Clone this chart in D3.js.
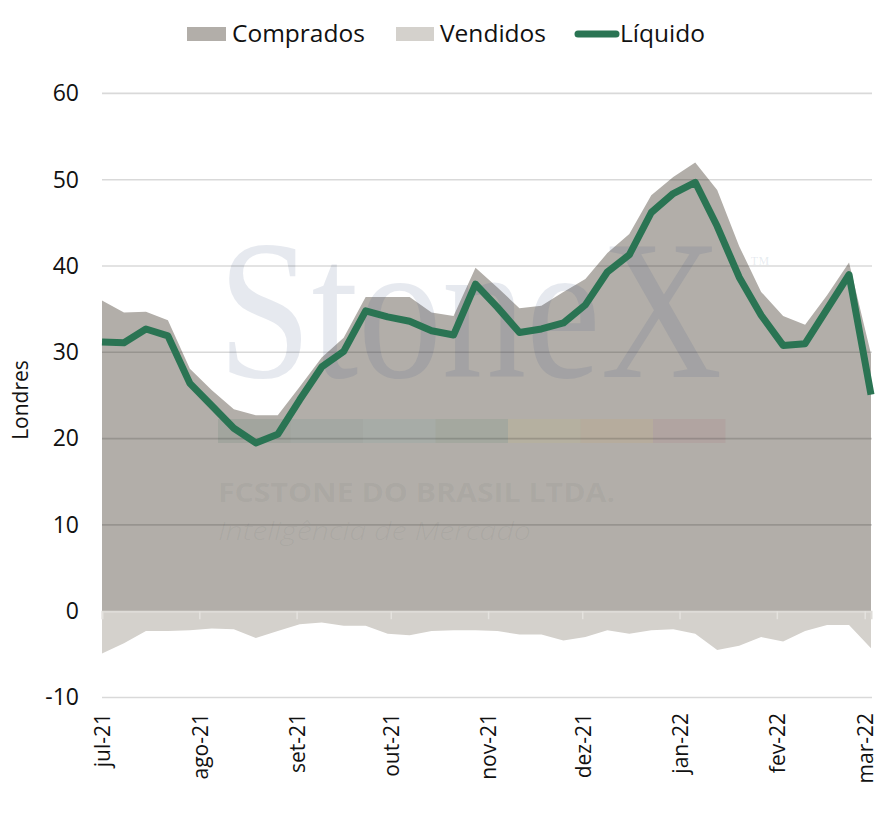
<!DOCTYPE html>
<html lang="pt">
<head>
<meta charset="UTF-8">
<title>Londres</title>
<style>
  body { margin: 0; background: #fff; }
  text { font-family: "Open Sans", "Noto Sans", sans-serif; fill: #111; }
</style>
</head>
<body>
<div id="chart"></div>
<script src="https://cdn.jsdelivr.net/npm/d3@7/dist/d3.min.js"></script>
<script>
// dados semanais (milhares de contratos)
let datas = ['2021-07-06','2021-07-13','2021-07-20','2021-07-27','2021-08-03','2021-08-10','2021-08-17','2021-08-24','2021-08-31',
  '2021-09-07','2021-09-14','2021-09-21','2021-09-28','2021-10-05','2021-10-12','2021-10-19','2021-10-26',
  '2021-11-02','2021-11-09','2021-11-16','2021-11-23','2021-11-30','2021-12-07','2021-12-14','2021-12-21','2021-12-28',
  '2022-01-04','2022-01-11','2022-01-18','2022-01-25','2022-02-01','2022-02-08','2022-02-15','2022-02-22','2022-03-01','2022-03-08']
let comprados = [36.0, 34.6, 34.7, 33.7, 28.1, 25.6, 23.4, 22.7, 22.7, 26.0, 29.4, 31.7, 36.4, 36.4, 36.4, 34.6, 34.2, 39.8,
  37.5, 35.1, 35.4, 37.0, 38.5, 41.5, 43.7, 48.2, 50.3, 52.0, 48.8, 42.3, 37.0, 34.2, 33.2, 36.6, 40.4, 29.8]
let vendidos = [-4.9, -3.7, -2.3, -2.3, -2.2, -2.0, -2.1, -3.1, -2.3, -1.5, -1.3, -1.7, -1.7, -2.6, -2.8, -2.3, -2.2, -2.2,
  -2.3, -2.7, -2.7, -3.4, -3.0, -2.2, -2.6, -2.2, -2.1, -2.6, -4.5, -4.0, -3.0, -3.5, -2.3, -1.6, -1.6, -4.3]
let liquido = [31.2, 31.1, 32.7, 31.9, 26.4, 23.8, 21.2, 19.5, 20.5, 24.5, 28.3, 30.1, 34.8, 34.1, 33.6, 32.5, 32.0, 37.9,
  35.2, 32.3, 32.7, 33.4, 35.5, 39.3, 41.3, 46.2, 48.4, 49.7, 44.6, 38.7, 34.3, 30.8, 31.0, 35.0, 39.0, 25.1]
let yTicks = [-10, 0, 10, 20, 30, 40, 50, 60]
let meses = ['jan', 'fev', 'mar', 'abr', 'mai', 'jun', 'jul', 'ago', 'set', 'out', 'nov', 'dez']

let width = 886
let height = 827
let corComprados = '#b2aea9'
let corVendidos = '#d4d1cc'
let corLiquido = '#2a7453'

let svg = d3.select('#chart').append('svg').attr('width', width).attr('height', height)

let parse = d3.timeParse('%Y-%m-%d')
let dias = datas.map(parse)

let x = d3.scaleTime().domain(d3.extent(dias)).range([102, 871])
let y = d3.scaleLinear().domain([-10, 60]).range([697.5, 93.4])

// áreas
let areaC = d3.area().x((d, i) => x(dias[i])).y0(y(0)).y1(d => y(d))
let areaV = d3.area().x((d, i) => x(dias[i])).y0(y(0)).y1(d => y(d))
svg.append('path').attr('d', areaC(comprados)).attr('fill', corComprados)
svg.append('path').attr('d', areaV(vendidos)).attr('fill', corVendidos)

// marca d'água
let wm = svg.append('g').attr('class', 'watermark')
wm.append('text').text('StoneX').attr('transform', 'translate(218,377) scale(1,1.19)')
  .style('font-family', '"Liberation Serif", "DejaVu Serif", serif').style('font-size', '168px')
  .style('fill', 'rgba(60,85,130,0.13)')
wm.append('text').text('™').attr('x', 750).attr('y', 270)
  .style('font-family', '"Liberation Serif", serif').style('font-size', '20px')
  .style('fill', 'rgba(60,85,130,0.12)')
let faixas = ['#1d5a48', '#2d7a78', '#4f9a9c', '#2f7a50', '#d8c45a', '#e39a3c', '#b2505e']
faixas.forEach((c, i) => {
  wm.append('rect').attr('x', 218 + i * 72.5).attr('y', 419).attr('width', 72.5).attr('height', 24)
    .attr('fill', c).attr('opacity', 0.1)
})
wm.append('text').text('FCSTONE DO BRASIL LTDA.').attr('x', 218).attr('y', 502)
  .attr('textLength', 397).attr('lengthAdjust', 'spacingAndGlyphs')
  .style('font-size', '27px').style('font-weight', 'bold').style('fill', 'rgba(80,80,80,0.07)')
wm.append('text').text('Inteligência de Mercado').attr('x', 218).attr('y', 540)
  .attr('textLength', 313).attr('lengthAdjust', 'spacingAndGlyphs')
  .style('font-size', '25px').style('font-style', 'italic').style('font-weight', '300')
  .style('fill', 'rgba(80,80,80,0.07)')

// grade horizontal
let grid = svg.append('g').attr('class', 'grid')
yTicks.filter(t => t !== 0).forEach(t => {
  grid.append('line').attr('x1', 102).attr('x2', 872).attr('y1', y(t)).attr('y2', y(t))
    .attr('stroke', 'rgba(0,0,0,0.15)').attr('stroke-width', 1.6)
})

// eixo X (linha do zero)
let inicio = dias[0]
let tickDatas = d3.range(0, 9).map(i => d3.timeMonth.offset(inicio, i))
let xAxis = d3.axisBottom(x).tickValues(tickDatas).tickSize(8).tickFormat('')
let gx = svg.append('g').attr('class', 'xAxis').attr('transform', 'translate(0,' + y(0) + ')').call(xAxis)
gx.select('.domain').attr('stroke', '#dedcd8').attr('stroke-width', 2)
gx.selectAll('.tick line').attr('stroke', '#e4e2de').attr('stroke-width', 1.5)

// rótulos do eixo X
svg.append('g').selectAll('text').data(tickDatas).join('text')
  .attr('transform', d => 'translate(' + (x(d) + 1) + ',713) rotate(-90)')
  .attr('text-anchor', 'end').attr('dy', '0.35em')
  .style('font-size', '21px')
  .text(d => meses[d.getMonth()] + '-' + d3.timeFormat('%y')(d))

// eixo Y
let yAxis = d3.axisLeft(y).tickValues(yTicks).tickSize(0).tickPadding(0).tickFormat(d => String(d))
let gy = svg.append('g').attr('class', 'yAxis').attr('transform', 'translate(79,0)').call(yAxis)
gy.select('.domain').remove()
gy.selectAll('text').style('font-size', '23px').style('font-family', '"Open Sans", sans-serif').attr('fill', '#111')

svg.append('text').text('Londres')
  .attr('transform', 'translate(28,' + 400 + ') rotate(-90)')
  .attr('text-anchor', 'middle').style('font-size', '21px')

// linha líquido
let linha = d3.line().x((d, i) => x(dias[i])).y(d => y(d))
svg.append('path').attr('d', linha(liquido)).attr('fill', 'none')
  .attr('stroke', corLiquido).attr('stroke-width', 7).attr('stroke-linejoin', 'round')

// legenda
let leg = svg.append('g').attr('class', 'legend')
leg.append('rect').attr('x', 187).attr('y', 27).attr('width', 39).attr('height', 14).attr('fill', corComprados)
leg.append('text').text('Comprados').attr('x', 232).attr('y', 42).style('font-size', '24.5px')
leg.append('rect').attr('x', 396).attr('y', 27).attr('width', 38).attr('height', 14).attr('fill', corVendidos)
leg.append('text').text('Vendidos').attr('x', 440).attr('y', 42).style('font-size', '24.5px')
leg.append('line').attr('x1', 578).attr('x2', 616).attr('y1', 34).attr('y2', 34)
  .attr('stroke', corLiquido).attr('stroke-width', 7).attr('stroke-linecap', 'round')
leg.append('text').text('Líquido').attr('x', 620).attr('y', 42).style('font-size', '24.5px')
</script>
</body>
</html>
